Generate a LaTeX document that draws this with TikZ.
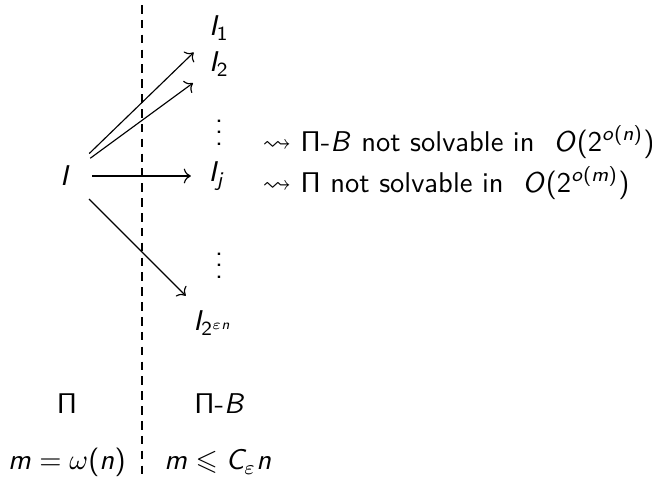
\documentclass[tikz,border=0pt]{standalone}
\usepackage{amsmath}
\usepackage{amssymb}
\usetikzlibrary{arrows.meta}
% sans serif math as in slides
\SetSymbolFont{operators}{normal}{OT1}{cmss}{m}{n}
\DeclareSymbolFont{sfitalic}{OT1}{cmss}{m}{sl}
\DeclareMathSymbol{B}{\mathalpha}{sfitalic}{`B}
\DeclareMathSymbol{C}{\mathalpha}{sfitalic}{`C}
\DeclareMathSymbol{I}{\mathalpha}{sfitalic}{`I}
\DeclareMathSymbol{O}{\mathalpha}{sfitalic}{`O}
\DeclareMathSymbol{j}{\mathalpha}{sfitalic}{`j}
\DeclareMathSymbol{m}{\mathalpha}{sfitalic}{`m}
\DeclareMathSymbol{n}{\mathalpha}{sfitalic}{`n}
\DeclareMathSymbol{o}{\mathalpha}{sfitalic}{`o}
\tikzset{
  inst/.style={inner sep=3pt},
  remark/.style={inner sep=0pt, anchor=west},
  reduce/.style={->, thin, shorten <=4pt, shorten >=3pt},
  splitline/.style={dash pattern=on 3pt off 2.2pt, line width=0.4pt}
}

\begin{document}
\begin{tikzpicture}[x=0.35pt, y=-0.35pt, font=\sffamily]
\useasboundingbox (0,0) rectangle (652,476);
% instances
\node[inst] (I) at (66,176) {$I$};
\node[inst] (I1) at (219,28) {$I_1$};
\node[inst] (I2) at (219,64) {$I_2$};
\node[inst] (dots1) at (219,124) {$\vdots$};
\node[inst] (Ij) at (217,176) {$I_j$};
\node[inst] (dots2) at (219,257) {$\vdots$};
\node[inst] (Ilast) at (213,323) {$I_{2^{\varepsilon n}}$};
% problems
\node[inst] (P) at (67,404) {$\Pi$};
\node[inst] (PB) at (220,404) {$\Pi$-$B$};
\node[inst] (mP) at (67,462) {$m = \omega(n)$};
\node[inst] (mPB) at (218,462) {$m \leqslant C_\varepsilon n$};
% conclusions
\node[remark] (c1) at (262,142) {$\leadsto$ $\Pi$-$B$ not solvable in \ $O(2^{o(n)})$};
\node[remark] (c2) at (262,183) {$\leadsto$ $\Pi$ not solvable in \ $O(2^{o(m)})$};
% split
\coordinate (top) at (142,5);
\coordinate (bot) at (142,476);
\draw[splitline] (top) -- (bot);
\draw[reduce] (I) -- (I1);
\draw[reduce] (I) -- (I2);
\draw[reduce] (I) -- (Ij);
\draw[reduce] (I) -- (Ilast);
\end{tikzpicture}
\end{document}
